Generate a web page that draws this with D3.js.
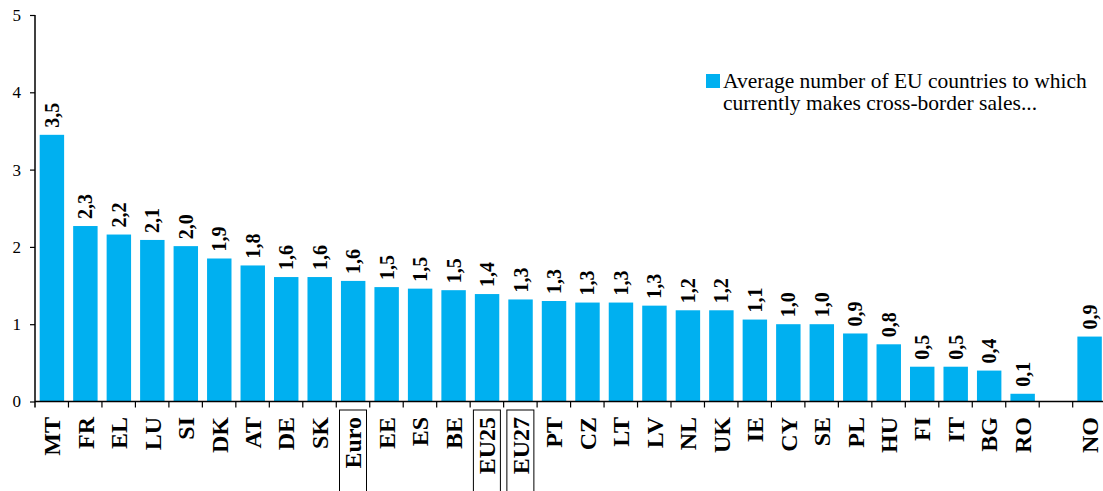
<!DOCTYPE html>
<html>
<head>
<meta charset="utf-8">
<script src="https://cdn.jsdelivr.net/npm/d3@7"></script>
<style>
  body { margin: 0; background: #fff; }
  svg { display: block; }
</style>
</head>
<body>
<div id="chart"></div>
<script>
// data
var categories = ["MT","FR","EL","LU","SI","DK","AT","DE","SK","Euro","EE","ES","BE","EU25","EU27",
                  "PT","CZ","LT","LV","NL","UK","IE","CY","SE","PL","HU","FI","IT","BG","RO","","NO"];
var values = [3.45,2.27,2.16,2.09,2.01,1.85,1.76,1.61,1.61,1.56,1.48,1.46,1.44,1.39,1.32,
              1.30,1.28,1.28,1.24,1.18,1.18,1.06,1.00,1.00,0.88,0.74,0.45,0.45,0.40,0.10,null,0.84];
var valueLabels = ["3,5","2,3","2,2","2,1","2,0","1,9","1,8","1,6","1,6","1,6","1,5","1,5","1,5","1,4","1,3",
                   "1,3","1,3","1,3","1,3","1,2","1,2","1,1","1,0","1,0","0,9","0,8","0,5","0,5","0,4","0,1","","0,9"];
var boxed = ["Euro","EU25","EU27"];
var yTicks = [0,1,2,3,4,5];
var legendLines = ["Average number of EU countries to which", "currently makes cross-border sales..."];

var width = 1103;
var height = 491;
var barColor = "#00b0f0";

var svg = d3.select("#chart")
  .append("svg")
  .attr("width", width)
  .attr("height", height);

var x = d3.scaleBand()
  .domain(d3.range(categories.length))
  .range([35, 1106.5])
  .paddingInner(0.27)
  .paddingOuter(0.14);

var y = d3.scaleLinear()
  .domain([0, 5])
  .range([401.5, 15]);

var step = x.step();
var slotLeft = (i) => 35 + i * step;

// bars
svg.selectAll("rect.bar")
  .data(values.map((v, i) => ({v: v, i: i})).filter(d => d.v !== null))
  .enter()
  .append("rect")
  .attr("class", "bar")
  .attr("x", d => x(d.i))
  .attr("y", d => y(d.v))
  .attr("width", x.bandwidth())
  .attr("height", d => y(0) - y(d.v))
  .style("fill", barColor);

// value labels, vertical
svg.selectAll("text.val")
  .data(values.map((v, i) => ({v: v, i: i, t: valueLabels[i]})).filter(d => d.v !== null))
  .enter()
  .append("text")
  .attr("class", "val")
  .attr("transform", d => "translate(" + (x(d.i) + x.bandwidth() / 2) + "," + (y(d.v) - 7) + ") rotate(-90)")
  .attr("dy", "0.35em")
  .attr("text-anchor", "start")
  .style("font-family", "'Liberation Serif', serif")
  .style("font-weight", "bold")
  .style("font-size", "20px")
  .text(d => d.t);

// y axis
var yAxis = d3.axisLeft(y)
  .tickValues(yTicks)
  .tickSize(5)
  .tickPadding(9)
  .tickFormat(d3.format("d"));

var gy = svg.append("g")
  .attr("transform", "translate(35,0)")
  .call(yAxis);
gy.select(".domain").attr("d", "M0," + y(5) + "V" + (y(0) + 6)).style("stroke", "#000").style("stroke-width", 1.5);
gy.selectAll(".tick line").style("stroke", "#000").style("stroke-width", 1.2);
gy.selectAll(".tick text")
  .style("font-family", "'Liberation Serif', serif")
  .style("font-size", "17px")
  .style("fill", "#000");

// x axis line + ticks between categories
svg.append("line")
  .attr("x1", 35).attr("x2", 1106.5)
  .attr("y1", y(0)).attr("y2", y(0))
  .style("stroke", "#000").style("stroke-width", 1.5);

svg.selectAll("line.xtick")
  .data(d3.range(1, categories.length))
  .enter()
  .append("line")
  .attr("class", "xtick")
  .attr("x1", d => slotLeft(d)).attr("x2", d => slotLeft(d))
  .attr("y1", y(0)).attr("y2", y(0) + 6)
  .style("stroke", "#000").style("stroke-width", 1.2);

// boxes around aggregates
svg.selectAll("rect.box")
  .data(categories.map((c, i) => ({c: c, i: i})).filter(d => boxed.indexOf(d.c) >= 0))
  .enter()
  .append("rect")
  .attr("class", "box")
  .attr("x", d => slotLeft(d.i) + step / 2 - 13.5)
  .attr("y", 410)
  .attr("width", 27)
  .attr("height", 100)
  .style("fill", "none")
  .style("stroke", "#000")
  .style("stroke-width", 1);

// category labels
svg.selectAll("text.cat")
  .data(categories.map((c, i) => ({c: c, i: i})))
  .enter()
  .append("text")
  .attr("class", "cat")
  .attr("transform", d => "translate(" + (slotLeft(d.i) + step / 2) + ",417) rotate(-90)")
  .attr("dy", "0.35em")
  .attr("text-anchor", "end")
  .style("font-family", "'Liberation Serif', serif")
  .style("font-weight", "bold")
  .style("font-size", "24px")
  .text(d => d.c);

// legend
var legend = svg.append("g").attr("transform", "translate(706,74)");
legend.append("rect")
  .attr("width", 14).attr("height", 14)
  .style("fill", barColor);
legend.selectAll("text")
  .data(legendLines)
  .enter()
  .append("text")
  .attr("x", 17)
  .attr("y", (d, i) => 14 + i * 22)
  .style("font-family", "'Liberation Serif', serif")
  .style("font-size", "21.5px")
  .text(d => d);
</script>
</body>
</html>
